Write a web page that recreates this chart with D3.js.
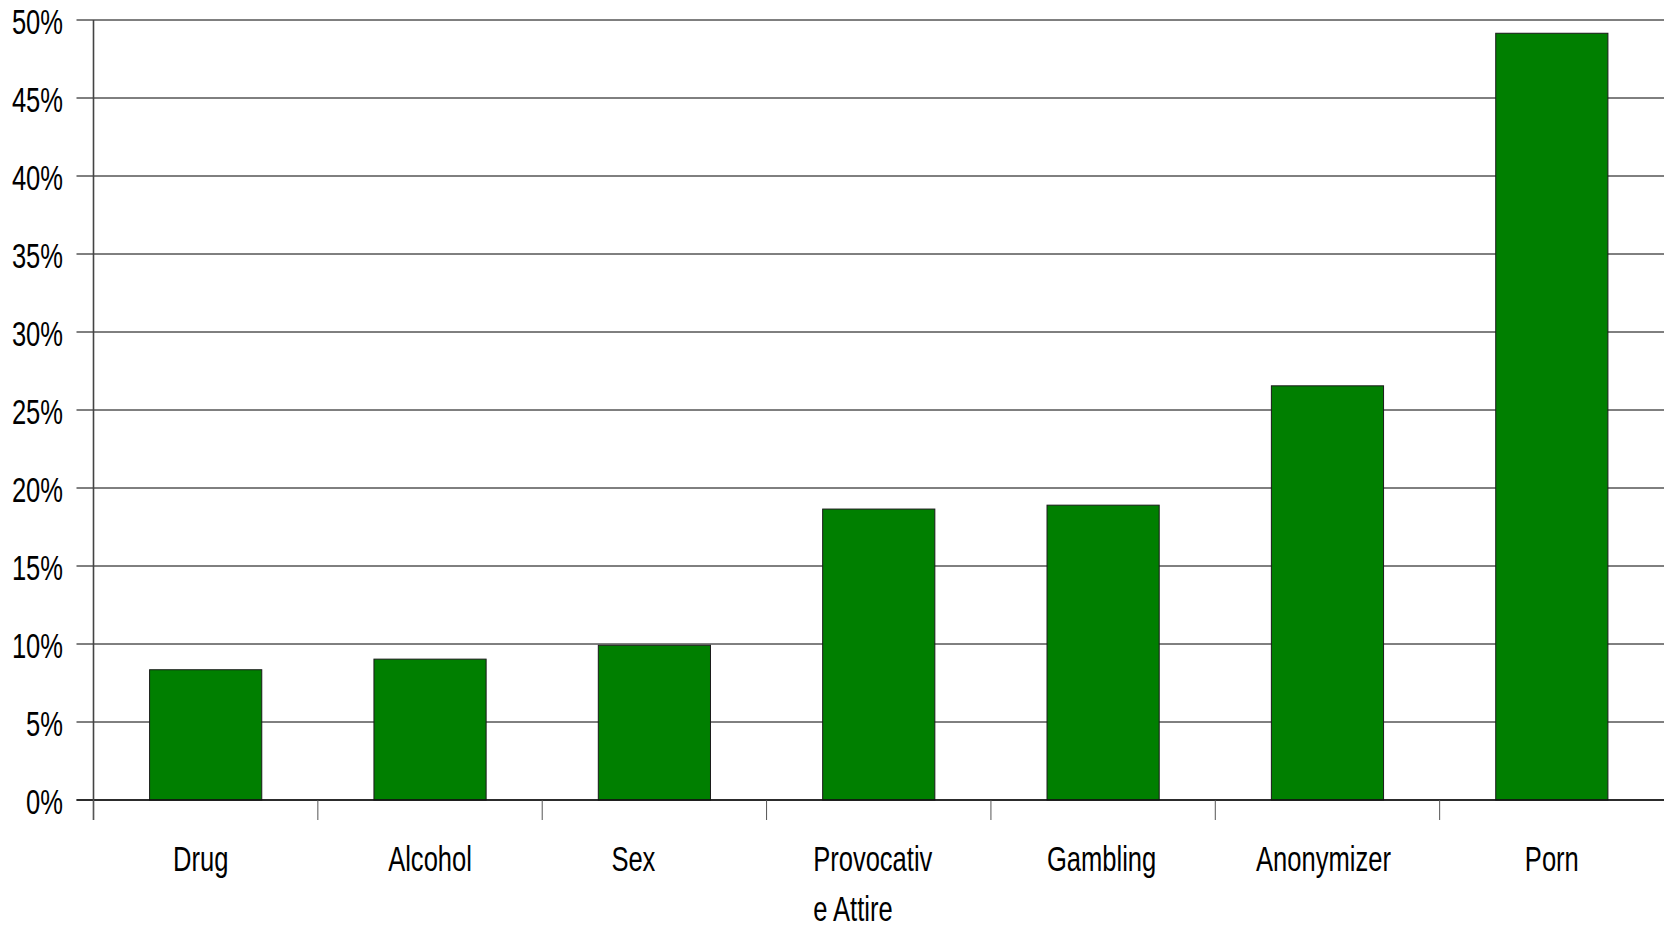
<!DOCTYPE html>
<html>
<head>
<meta charset="utf-8">
<script src="https://cdn.jsdelivr.net/npm/d3@7"></script>
<style>
  body { margin: 0; background: #fff; }
  text { font-family: "Liberation Sans", Arial, sans-serif; fill: #000; }
</style>
</head>
<body>
<div id="chart"></div>
<script>
// *********************************************
// DATA
// *********************************************
var categories = ["Drug", "Alcohol", "Sex", "Provocative Attire", "Gambling", "Anonymizer", "Porn"];
var shares = [8.35, 9.03, 9.92, 18.65, 18.9, 26.55, 49.15];   // percent of sites
var tickLabels = [["Drug"], ["Alcohol"], ["Sex"], ["Provocativ", "e Attire"], ["Gambling"], ["Anonymizer"], ["Porn"]];
var yTicks = [0, 5, 10, 15, 20, 25, 30, 35, 40, 45, 50];

// small horizontal nudges of the category labels, as in the original layout
var labelNudge = [-5, 0, -21, -6, -1.5, -4, 0];

// *********************************************
// SETUP
// *********************************************
var width = 1667, height = 927;
var plotLeft = 93.5, plotRight = 1664, plotTop = 20, plotBottom = 800;
var squeeze = 0.73; // the original font is a condensed sans, so squash Liberation Sans
var fontSize = "35px";

var svg = d3.select("#chart").append("svg")
    .attr("width", width)
    .attr("height", height);

var x = d3.scaleBand()
    .domain(categories)
    .range([plotLeft, plotRight])
    .paddingInner(0.5)
    .paddingOuter(0.25);

var y = d3.scaleLinear()
    .domain([0, 50])
    .range([plotBottom, plotTop]);

// gridlines + y labels
var grid = svg.append("g").attr("id", "grid");
grid.selectAll("line")
  .data(yTicks).enter().append("line")
    .attr("x1", plotLeft - 17)
    .attr("x2", plotRight)
    .attr("y1", d => y(d))
    .attr("y2", d => y(d))
    .style("stroke", "#000")
    .style("stroke-width", 1);

grid.selectAll("g.ylab")
  .data(yTicks).enter().append("g")
    .attr("class", "ylab")
    .attr("transform", d => "translate(63," + (y(d) + 1) + ") scale(" + squeeze + ",1)")
  .append("text")
    .attr("text-anchor", "end")
    .attr("dy", "0.36em")
    .style("font-size", fontSize)
    .text(d => d + "%");

// bars
svg.append("g").attr("id", "bars")
  .selectAll("rect")
  .data(shares).enter().append("rect")
    .attr("x", (d, i) => x(categories[i]))
    .attr("width", x.bandwidth())
    .attr("y", d => y(d))
    .attr("height", d => y(0) - y(d))
    .style("fill", "#007f00")
    .style("stroke", "#1a1a1a")
    .style("stroke-width", 1);

// axes
var axis = svg.append("g").attr("id", "axes");
axis.append("line")
    .attr("x1", plotLeft - 17).attr("x2", plotRight)
    .attr("y1", plotBottom).attr("y2", plotBottom)
    .style("stroke", "#111").style("stroke-width", 1.5);

axis.append("line")
    .attr("x1", plotLeft).attr("x2", plotLeft)
    .attr("y1", plotTop).attr("y2", plotBottom + 20)
    .style("stroke", "#444").style("stroke-width", 1.6);

// category separators below the axis (none at the far right)
var gap = (x.step() - x.bandwidth()) / 2;
var bounds = categories.map(c => x(c) - gap);
axis.selectAll("line.tick")
  .data(bounds).enter().append("line")
    .attr("class", "tick")
    .attr("x1", d => d).attr("x2", d => d)
    .attr("y1", plotBottom).attr("y2", plotBottom + 20)
    .style("stroke", "#555").style("stroke-width", 1);

// category labels (left aligned block centred on band)
var labs = svg.append("g").attr("id", "xlabels")
  .selectAll("g")
  .data(categories).enter().append("g")
    .attr("transform", (d, i) => "translate(" + (x(d) + x.bandwidth() / 2 + labelNudge[i]) + ",871) scale(" + squeeze + ",1)");

labs.each(function(d, i) {
  var g = d3.select(this);
  var t = g.append("text").style("font-size", fontSize).attr("text-anchor", "start");
  tickLabels[i].forEach(function(line, j) {
    t.append("tspan").attr("x", 0).attr("y", j * 50).text(line);
  });
  var w = d3.max(t.selectAll("tspan").nodes(), n => n.getComputedTextLength());
  t.selectAll("tspan").attr("x", -w / 2);
});
</script>
</body>
</html>
